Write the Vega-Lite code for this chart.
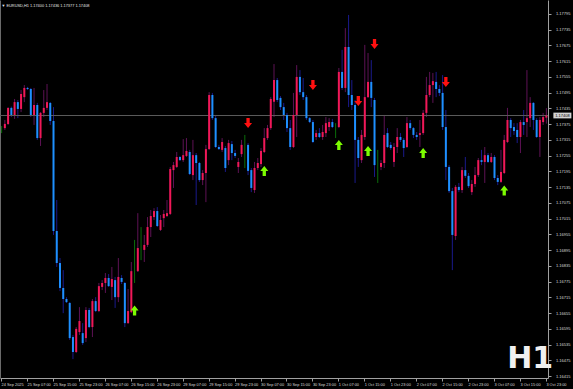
{
"$schema":"https://vega.github.io/schema/vega-lite/v6.json",
"width":548,"height":378,
"autosize":{"type":"none"},
"padding":{"left":0,"top":0,"right":25,"bottom":11},
"background":"#000000",
"config":{"view":{"stroke":null},"font":"Liberation Sans",
 "axisX":{"orient":"bottom","title":null,"grid":false,"labelAngle":0,"labelAlign":"left","labelBaseline":"top","labelFontSize":3.9,"labelColor":"#dcdcdc","labelPadding":1.5,"labelOverlap":false,"labelBound":false,"labelFlush":false,"tickSize":3,"tickColor":"#a0a0a0","domainColor":"#a0a0a0","domainWidth":1}},
"title":{"text":"▼ EURUSD,H1  1.17400 1.17436 1.17377 1.17408","anchor":"start","orient":"top","offset":-8,"dx":2,"fontSize":3.9,"fontWeight":"normal","color":"#e6e6e6","font":"Liberation Sans"},
"datasets":{
"bars":[
{"t":"24 Sep 23:00","o":1.1736,"h":1.17368,"l":1.17341,"c":1.1736},
{"t":"25 Sep 00:00","o":1.1736,"h":1.17391,"l":1.17353,"c":1.17376},
{"t":"25 Sep 01:00","o":1.17376,"h":1.1744,"l":1.17372,"c":1.17437},
{"t":"25 Sep 02:00","o":1.17437,"h":1.17442,"l":1.17402,"c":1.1741},
{"t":"25 Sep 03:00","o":1.1741,"h":1.17471,"l":1.17395,"c":1.17459},
{"t":"25 Sep 04:00","o":1.17459,"h":1.17467,"l":1.17398,"c":1.17433},
{"t":"25 Sep 05:00","o":1.17433,"h":1.17505,"l":1.17421,"c":1.1749},
{"t":"25 Sep 06:00","o":1.17478,"h":1.17524,"l":1.17459,"c":1.17513},
{"t":"25 Sep 07:00","o":1.17513,"h":1.17517,"l":1.17505,"c":1.17509},
{"t":"25 Sep 08:00","o":1.17509,"h":1.17513,"l":1.17402,"c":1.1741},
{"t":"25 Sep 09:00","o":1.1741,"h":1.17513,"l":1.17372,"c":1.17448},
{"t":"25 Sep 10:00","o":1.17448,"h":1.17456,"l":1.17315,"c":1.17322},
{"t":"25 Sep 11:00","o":1.17322,"h":1.17421,"l":1.17292,"c":1.17418},
{"t":"25 Sep 12:00","o":1.17418,"h":1.17505,"l":1.17402,"c":1.17437},
{"t":"25 Sep 13:00","o":1.17437,"h":1.17528,"l":1.17429,"c":1.17459},
{"t":"25 Sep 14:00","o":1.17456,"h":1.17459,"l":1.17372,"c":1.17387},
{"t":"25 Sep 15:00","o":1.17387,"h":1.1744,"l":1.16953,"c":1.16968},
{"t":"25 Sep 16:00","o":1.16968,"h":1.17086,"l":1.16831,"c":1.16846},
{"t":"25 Sep 17:00","o":1.16846,"h":1.16865,"l":1.16739,"c":1.16751},
{"t":"25 Sep 18:00","o":1.16751,"h":1.16819,"l":1.16655,"c":1.16709},
{"t":"25 Sep 19:00","o":1.16709,"h":1.16716,"l":1.16694,"c":1.16697},
{"t":"25 Sep 20:00","o":1.16694,"h":1.16697,"l":1.16553,"c":1.1656},
{"t":"25 Sep 21:00","o":1.16564,"h":1.16572,"l":1.1648,"c":1.16507},
{"t":"25 Sep 22:00","o":1.16507,"h":1.16602,"l":1.16503,"c":1.16595},
{"t":"25 Sep 23:00","o":1.16583,"h":1.16678,"l":1.16572,"c":1.16625},
{"t":"26 Sep 00:00","o":1.16579,"h":1.16617,"l":1.16534,"c":1.16541},
{"t":"26 Sep 01:00","o":1.1656,"h":1.16678,"l":1.16545,"c":1.16667},
{"t":"26 Sep 02:00","o":1.16667,"h":1.16675,"l":1.16598,"c":1.16602},
{"t":"26 Sep 03:00","o":1.16602,"h":1.16709,"l":1.16564,"c":1.16701},
{"t":"26 Sep 04:00","o":1.16701,"h":1.16716,"l":1.16659,"c":1.16663},
{"t":"26 Sep 05:00","o":1.16663,"h":1.1677,"l":1.16659,"c":1.16758},
{"t":"26 Sep 06:00","o":1.16755,"h":1.16781,"l":1.16743,"c":1.1677},
{"t":"26 Sep 07:00","o":1.1677,"h":1.16808,"l":1.16732,"c":1.16789},
{"t":"26 Sep 08:00","o":1.16789,"h":1.16804,"l":1.16755,"c":1.16758},
{"t":"26 Sep 09:00","o":1.16755,"h":1.16831,"l":1.16705,"c":1.16785},
{"t":"26 Sep 10:00","o":1.16781,"h":1.16793,"l":1.16675,"c":1.16716},
{"t":"26 Sep 11:00","o":1.16716,"h":1.16865,"l":1.16697,"c":1.16793},
{"t":"26 Sep 12:00","o":1.16789,"h":1.168,"l":1.16766,"c":1.16774},
{"t":"26 Sep 13:00","o":1.1677,"h":1.16774,"l":1.16602,"c":1.16617},
{"t":"26 Sep 14:00","o":1.16617,"h":1.16747,"l":1.16614,"c":1.16663},
{"t":"26 Sep 15:00","o":1.16659,"h":1.1685,"l":1.16655,"c":1.16815},
{"t":"26 Sep 16:00","o":1.16815,"h":1.16934,"l":1.1677,"c":1.16815},
{"t":"26 Sep 17:00","o":1.16815,"h":1.17036,"l":1.16812,"c":1.16903},
{"t":"26 Sep 18:00","o":1.16899,"h":1.16983,"l":1.16857,"c":1.16899},
{"t":"26 Sep 19:00","o":1.16896,"h":1.16953,"l":1.1685,"c":1.16915},
{"t":"26 Sep 20:00","o":1.16915,"h":1.17021,"l":1.16907,"c":1.16983},
{"t":"26 Sep 21:00","o":1.16983,"h":1.17048,"l":1.16945,"c":1.17025},
{"t":"26 Sep 22:00","o":1.17021,"h":1.17055,"l":1.1701,"c":1.17044},
{"t":"26 Sep 23:00","o":1.17044,"h":1.17059,"l":1.16983,"c":1.16987},
{"t":"29 Sep 00:00","o":1.16972,"h":1.17029,"l":1.16968,"c":1.1701},
{"t":"29 Sep 01:00","o":1.17017,"h":1.17048,"l":1.16983,"c":1.17033},
{"t":"29 Sep 02:00","o":1.17025,"h":1.17086,"l":1.17021,"c":1.17036},
{"t":"29 Sep 03:00","o":1.17033,"h":1.17212,"l":1.17029,"c":1.17204},
{"t":"29 Sep 04:00","o":1.172,"h":1.17231,"l":1.17132,"c":1.17219},
{"t":"29 Sep 05:00","o":1.17212,"h":1.17269,"l":1.17208,"c":1.1725},
{"t":"29 Sep 06:00","o":1.1725,"h":1.17254,"l":1.17235,"c":1.17238},
{"t":"29 Sep 07:00","o":1.17238,"h":1.17318,"l":1.17231,"c":1.17257},
{"t":"29 Sep 08:00","o":1.17254,"h":1.17322,"l":1.1725,"c":1.17273},
{"t":"29 Sep 09:00","o":1.17269,"h":1.17277,"l":1.17181,"c":1.17185},
{"t":"29 Sep 10:00","o":1.17181,"h":1.17315,"l":1.17162,"c":1.17257},
{"t":"29 Sep 11:00","o":1.17257,"h":1.17265,"l":1.17067,"c":1.17227},
{"t":"29 Sep 12:00","o":1.17227,"h":1.17231,"l":1.17155,"c":1.17162},
{"t":"29 Sep 13:00","o":1.17162,"h":1.172,"l":1.17143,"c":1.17189},
{"t":"29 Sep 14:00","o":1.17189,"h":1.17296,"l":1.17078,"c":1.1728},
{"t":"29 Sep 15:00","o":1.1728,"h":1.17497,"l":1.17277,"c":1.17486},
{"t":"29 Sep 16:00","o":1.17486,"h":1.17494,"l":1.17391,"c":1.17398},
{"t":"29 Sep 17:00","o":1.17398,"h":1.1741,"l":1.17284,"c":1.17288},
{"t":"29 Sep 18:00","o":1.17288,"h":1.17296,"l":1.17277,"c":1.1728},
{"t":"29 Sep 19:00","o":1.17277,"h":1.17322,"l":1.17269,"c":1.17307},
{"t":"29 Sep 20:00","o":1.17284,"h":1.17292,"l":1.17193,"c":1.17208},
{"t":"29 Sep 21:00","o":1.17238,"h":1.17315,"l":1.17219,"c":1.17303},
{"t":"29 Sep 22:00","o":1.17299,"h":1.17311,"l":1.17238,"c":1.17265},
{"t":"29 Sep 23:00","o":1.17265,"h":1.17277,"l":1.17246,"c":1.17254},
{"t":"30 Sep 00:00","o":1.17212,"h":1.17246,"l":1.17189,"c":1.17231},
{"t":"30 Sep 01:00","o":1.17261,"h":1.17315,"l":1.1725,"c":1.17296},
{"t":"30 Sep 02:00","o":1.17296,"h":1.17334,"l":1.17208,"c":1.17296},
{"t":"30 Sep 03:00","o":1.17296,"h":1.17303,"l":1.17181,"c":1.17197},
{"t":"30 Sep 04:00","o":1.172,"h":1.17208,"l":1.17116,"c":1.17132},
{"t":"30 Sep 05:00","o":1.17124,"h":1.17231,"l":1.17113,"c":1.17208},
{"t":"30 Sep 06:00","o":1.17208,"h":1.17246,"l":1.172,"c":1.17227},
{"t":"30 Sep 07:00","o":1.17223,"h":1.17284,"l":1.17212,"c":1.17273},
{"t":"30 Sep 08:00","o":1.17269,"h":1.1736,"l":1.17265,"c":1.17322},
{"t":"30 Sep 09:00","o":1.17322,"h":1.17372,"l":1.17315,"c":1.1736},
{"t":"30 Sep 10:00","o":1.1736,"h":1.17478,"l":1.17353,"c":1.17471},
{"t":"30 Sep 11:00","o":1.1746,"h":1.17604,"l":1.17402,"c":1.17543},
{"t":"30 Sep 12:00","o":1.17543,"h":1.17551,"l":1.17459,"c":1.17467},
{"t":"30 Sep 13:00","o":1.17475,"h":1.17482,"l":1.17429,"c":1.1744},
{"t":"30 Sep 14:00","o":1.1744,"h":1.17456,"l":1.17391,"c":1.1741},
{"t":"30 Sep 15:00","o":1.1741,"h":1.17418,"l":1.17345,"c":1.1736},
{"t":"30 Sep 16:00","o":1.1736,"h":1.17391,"l":1.17277,"c":1.17288},
{"t":"30 Sep 17:00","o":1.17288,"h":1.17494,"l":1.17284,"c":1.1741},
{"t":"30 Sep 18:00","o":1.1741,"h":1.176,"l":1.17326,"c":1.17555},
{"t":"30 Sep 19:00","o":1.17555,"h":1.17581,"l":1.17486,"c":1.17497},
{"t":"30 Sep 20:00","o":1.17497,"h":1.17551,"l":1.17467,"c":1.17478},
{"t":"30 Sep 21:00","o":1.17478,"h":1.17486,"l":1.17391,"c":1.17398},
{"t":"30 Sep 22:00","o":1.17398,"h":1.17402,"l":1.17379,"c":1.17383},
{"t":"30 Sep 23:00","o":1.17383,"h":1.17391,"l":1.17303,"c":1.17307},
{"t":"1 Oct 00:00","o":1.17326,"h":1.17353,"l":1.17315,"c":1.17341},
{"t":"1 Oct 01:00","o":1.17341,"h":1.1736,"l":1.17322,"c":1.17326},
{"t":"1 Oct 02:00","o":1.17326,"h":1.17372,"l":1.17315,"c":1.17345},
{"t":"1 Oct 03:00","o":1.17341,"h":1.17402,"l":1.17326,"c":1.17379},
{"t":"1 Oct 04:00","o":1.17364,"h":1.17398,"l":1.17349,"c":1.17383},
{"t":"1 Oct 05:00","o":1.17383,"h":1.17395,"l":1.1736,"c":1.17364},
{"t":"1 Oct 06:00","o":1.17364,"h":1.17379,"l":1.17322,"c":1.17364},
{"t":"1 Oct 07:00","o":1.17364,"h":1.17589,"l":1.1736,"c":1.17574},
{"t":"1 Oct 08:00","o":1.17574,"h":1.17658,"l":1.17505,"c":1.17513},
{"t":"1 Oct 09:00","o":1.17513,"h":1.17741,"l":1.17497,"c":1.17669},
{"t":"1 Oct 10:00","o":1.17669,"h":1.17791,"l":1.1744,"c":1.17486},
{"t":"1 Oct 11:00","o":1.17486,"h":1.17543,"l":1.17429,"c":1.17448},
{"t":"1 Oct 12:00","o":1.17448,"h":1.17467,"l":1.17151,"c":1.17315},
{"t":"1 Oct 13:00","o":1.17315,"h":1.17326,"l":1.17212,"c":1.17246},
{"t":"1 Oct 14:00","o":1.17238,"h":1.17353,"l":1.17227,"c":1.17334},
{"t":"1 Oct 15:00","o":1.17326,"h":1.17677,"l":1.17315,"c":1.17478},
{"t":"1 Oct 16:00","o":1.17478,"h":1.17646,"l":1.17475,"c":1.17536},
{"t":"1 Oct 17:00","o":1.17536,"h":1.17619,"l":1.1744,"c":1.17475},
{"t":"1 Oct 18:00","o":1.17467,"h":1.17475,"l":1.17174,"c":1.17219},
{"t":"1 Oct 19:00","o":1.17219,"h":1.17277,"l":1.17151,"c":1.17219},
{"t":"1 Oct 20:00","o":1.17212,"h":1.17238,"l":1.172,"c":1.17227},
{"t":"1 Oct 21:00","o":1.17227,"h":1.1741,"l":1.17208,"c":1.17334},
{"t":"1 Oct 22:00","o":1.17341,"h":1.1736,"l":1.17284,"c":1.17288},
{"t":"1 Oct 23:00","o":1.17296,"h":1.17307,"l":1.17277,"c":1.17284},
{"t":"2 Oct 00:00","o":1.17231,"h":1.17303,"l":1.17212,"c":1.17288},
{"t":"2 Oct 01:00","o":1.17288,"h":1.1736,"l":1.17265,"c":1.17326},
{"t":"2 Oct 02:00","o":1.17326,"h":1.17341,"l":1.17307,"c":1.17315},
{"t":"2 Oct 03:00","o":1.17315,"h":1.17322,"l":1.1725,"c":1.17284},
{"t":"2 Oct 04:00","o":1.17288,"h":1.17402,"l":1.17284,"c":1.17379},
{"t":"2 Oct 05:00","o":1.17379,"h":1.17391,"l":1.17353,"c":1.1736},
{"t":"2 Oct 06:00","o":1.1736,"h":1.17364,"l":1.17322,"c":1.17334},
{"t":"2 Oct 07:00","o":1.17334,"h":1.17345,"l":1.17315,"c":1.17326},
{"t":"2 Oct 08:00","o":1.17334,"h":1.17391,"l":1.17288,"c":1.17341},
{"t":"2 Oct 09:00","o":1.17341,"h":1.17429,"l":1.17334,"c":1.17418},
{"t":"2 Oct 10:00","o":1.17418,"h":1.17555,"l":1.17402,"c":1.17486},
{"t":"2 Oct 11:00","o":1.17486,"h":1.17574,"l":1.17478,"c":1.17524},
{"t":"2 Oct 12:00","o":1.17524,"h":1.1757,"l":1.17456,"c":1.17539},
{"t":"2 Oct 13:00","o":1.17536,"h":1.17574,"l":1.17478,"c":1.17509},
{"t":"2 Oct 14:00","o":1.17509,"h":1.17524,"l":1.17482,"c":1.17494},
{"t":"2 Oct 15:00","o":1.17494,"h":1.17562,"l":1.17353,"c":1.17364},
{"t":"2 Oct 16:00","o":1.17364,"h":1.17429,"l":1.17162,"c":1.17212},
{"t":"2 Oct 17:00","o":1.17212,"h":1.17219,"l":1.17113,"c":1.1712},
{"t":"2 Oct 18:00","o":1.1712,"h":1.17132,"l":1.16819,"c":1.16953},
{"t":"2 Oct 19:00","o":1.16949,"h":1.17143,"l":1.16934,"c":1.17136},
{"t":"2 Oct 20:00","o":1.17136,"h":1.17151,"l":1.17116,"c":1.17124},
{"t":"2 Oct 21:00","o":1.17124,"h":1.17212,"l":1.17113,"c":1.172},
{"t":"2 Oct 22:00","o":1.172,"h":1.1725,"l":1.1717,"c":1.17178},
{"t":"2 Oct 23:00","o":1.17178,"h":1.17189,"l":1.17132,"c":1.17139},
{"t":"3 Oct 00:00","o":1.17116,"h":1.17162,"l":1.17105,"c":1.17147},
{"t":"3 Oct 01:00","o":1.17147,"h":1.17212,"l":1.17136,"c":1.17181},
{"t":"3 Oct 02:00","o":1.17181,"h":1.17246,"l":1.17174,"c":1.17238},
{"t":"3 Oct 03:00","o":1.17238,"h":1.17277,"l":1.17219,"c":1.17231},
{"t":"3 Oct 04:00","o":1.17231,"h":1.17288,"l":1.17151,"c":1.17257},
{"t":"3 Oct 05:00","o":1.17257,"h":1.17265,"l":1.17227,"c":1.17231},
{"t":"3 Oct 06:00","o":1.17231,"h":1.17265,"l":1.17227,"c":1.1725},
{"t":"3 Oct 07:00","o":1.1725,"h":1.17257,"l":1.17162,"c":1.1717},
{"t":"3 Oct 08:00","o":1.1717,"h":1.17181,"l":1.17143,"c":1.17155},
{"t":"3 Oct 09:00","o":1.17155,"h":1.17277,"l":1.17151,"c":1.17193},
{"t":"3 Oct 10:00","o":1.17189,"h":1.17334,"l":1.17185,"c":1.17315},
{"t":"3 Oct 11:00","o":1.17307,"h":1.17437,"l":1.17303,"c":1.17391},
{"t":"3 Oct 12:00","o":1.17391,"h":1.17398,"l":1.17326,"c":1.1736},
{"t":"3 Oct 13:00","o":1.17364,"h":1.17379,"l":1.17334,"c":1.17349},
{"t":"3 Oct 14:00","o":1.17353,"h":1.17379,"l":1.17303,"c":1.17326},
{"t":"3 Oct 15:00","o":1.17326,"h":1.17391,"l":1.17265,"c":1.17383},
{"t":"3 Oct 16:00","o":1.17383,"h":1.17429,"l":1.17334,"c":1.17372},
{"t":"3 Oct 17:00","o":1.17383,"h":1.17581,"l":1.17326,"c":1.17398},
{"t":"3 Oct 18:00","o":1.17398,"h":1.17478,"l":1.17364,"c":1.17456},
{"t":"3 Oct 19:00","o":1.17456,"h":1.17459,"l":1.17353,"c":1.17391},
{"t":"3 Oct 20:00","o":1.17391,"h":1.17398,"l":1.17322,"c":1.17326},
{"t":"3 Oct 21:00","o":1.17326,"h":1.17402,"l":1.1725,"c":1.17391},
{"t":"3 Oct 22:00","o":1.17383,"h":1.17418,"l":1.17372,"c":1.17402},
{"t":"3 Oct 23:00","o":1.174,"h":1.17436,"l":1.17377,"c":1.17408}
],
"dn":[
{"t":"30 Sep 03:00","p":1.17379},
{"t":"30 Sep 23:00","p":1.17524},
{"t":"1 Oct 13:00","p":1.17463},
{"t":"1 Oct 18:00","p":1.1768},
{"t":"2 Oct 16:00","p":1.17536}
],
"up":[
{"t":"26 Sep 16:00","p":1.16665},
{"t":"30 Sep 08:00","p":1.17197},
{"t":"1 Oct 07:00","p":1.17296},
{"t":"1 Oct 16:00","p":1.17273},
{"t":"2 Oct 09:00","p":1.17265},
{"t":"3 Oct 10:00","p":1.17122}
],
"last":[{"t":"3 Oct 23:00","p":1.17408,"label":"1.17408"}],
"mark":[{"t":"3 Oct 18:00","p":1.16446,"label":"H1"}]
},
"resolve":{"axis":{"y":"independent"}},
"layer":[
{"data":{"name":"bars"},"mark":{"type":"rule","strokeWidth":1},
 "encoding":{
  "x":{"field":"t","type":"ordinal","scale":{"paddingInner":0,"paddingOuter":0,"domain":["24 Sep 23:00","25 Sep 00:00","25 Sep 01:00","25 Sep 02:00","25 Sep 03:00","25 Sep 04:00","25 Sep 05:00","25 Sep 06:00","25 Sep 07:00","25 Sep 08:00","25 Sep 09:00","25 Sep 10:00","25 Sep 11:00","25 Sep 12:00","25 Sep 13:00","25 Sep 14:00","25 Sep 15:00","25 Sep 16:00","25 Sep 17:00","25 Sep 18:00","25 Sep 19:00","25 Sep 20:00","25 Sep 21:00","25 Sep 22:00","25 Sep 23:00","26 Sep 00:00","26 Sep 01:00","26 Sep 02:00","26 Sep 03:00","26 Sep 04:00","26 Sep 05:00","26 Sep 06:00","26 Sep 07:00","26 Sep 08:00","26 Sep 09:00","26 Sep 10:00","26 Sep 11:00","26 Sep 12:00","26 Sep 13:00","26 Sep 14:00","26 Sep 15:00","26 Sep 16:00","26 Sep 17:00","26 Sep 18:00","26 Sep 19:00","26 Sep 20:00","26 Sep 21:00","26 Sep 22:00","26 Sep 23:00","29 Sep 00:00","29 Sep 01:00","29 Sep 02:00","29 Sep 03:00","29 Sep 04:00","29 Sep 05:00","29 Sep 06:00","29 Sep 07:00","29 Sep 08:00","29 Sep 09:00","29 Sep 10:00","29 Sep 11:00","29 Sep 12:00","29 Sep 13:00","29 Sep 14:00","29 Sep 15:00","29 Sep 16:00","29 Sep 17:00","29 Sep 18:00","29 Sep 19:00","29 Sep 20:00","29 Sep 21:00","29 Sep 22:00","29 Sep 23:00","30 Sep 00:00","30 Sep 01:00","30 Sep 02:00","30 Sep 03:00","30 Sep 04:00","30 Sep 05:00","30 Sep 06:00","30 Sep 07:00","30 Sep 08:00","30 Sep 09:00","30 Sep 10:00","30 Sep 11:00","30 Sep 12:00","30 Sep 13:00","30 Sep 14:00","30 Sep 15:00","30 Sep 16:00","30 Sep 17:00","30 Sep 18:00","30 Sep 19:00","30 Sep 20:00","30 Sep 21:00","30 Sep 22:00","30 Sep 23:00","1 Oct 00:00","1 Oct 01:00","1 Oct 02:00","1 Oct 03:00","1 Oct 04:00","1 Oct 05:00","1 Oct 06:00","1 Oct 07:00","1 Oct 08:00","1 Oct 09:00","1 Oct 10:00","1 Oct 11:00","1 Oct 12:00","1 Oct 13:00","1 Oct 14:00","1 Oct 15:00","1 Oct 16:00","1 Oct 17:00","1 Oct 18:00","1 Oct 19:00","1 Oct 20:00","1 Oct 21:00","1 Oct 22:00","1 Oct 23:00","2 Oct 00:00","2 Oct 01:00","2 Oct 02:00","2 Oct 03:00","2 Oct 04:00","2 Oct 05:00","2 Oct 06:00","2 Oct 07:00","2 Oct 08:00","2 Oct 09:00","2 Oct 10:00","2 Oct 11:00","2 Oct 12:00","2 Oct 13:00","2 Oct 14:00","2 Oct 15:00","2 Oct 16:00","2 Oct 17:00","2 Oct 18:00","2 Oct 19:00","2 Oct 20:00","2 Oct 21:00","2 Oct 22:00","2 Oct 23:00","3 Oct 00:00","3 Oct 01:00","3 Oct 02:00","3 Oct 03:00","3 Oct 04:00","3 Oct 05:00","3 Oct 06:00","3 Oct 07:00","3 Oct 08:00","3 Oct 09:00","3 Oct 10:00","3 Oct 11:00","3 Oct 12:00","3 Oct 13:00","3 Oct 14:00","3 Oct 15:00","3 Oct 16:00","3 Oct 17:00","3 Oct 18:00","3 Oct 19:00","3 Oct 20:00","3 Oct 21:00","3 Oct 22:00","3 Oct 23:00"]},
   "axis":{"values":["24 Sep 23:00","25 Sep 07:00","25 Sep 15:00","25 Sep 23:00","26 Sep 07:00","26 Sep 15:00","26 Sep 23:00","29 Sep 07:00","29 Sep 15:00","29 Sep 23:00","30 Sep 07:00","30 Sep 15:00","30 Sep 23:00","1 Oct 07:00","1 Oct 15:00","1 Oct 23:00","2 Oct 07:00","2 Oct 15:00","2 Oct 23:00","3 Oct 07:00","3 Oct 15:00","3 Oct 23:00"],
    "labelExpr":"datum.value == '24 Sep 23:00' ? '24 Sep 2025' : datum.value"}},
  "y":{"field":"h","type":"quantitative","scale":{"domain":[1.16408,1.17848],"nice":false,"zero":false},
   "axis":{"orient":"right","title":null,"grid":false,"values":[1.16415,1.16475,1.16535,1.16595,1.16655,1.16715,1.16775,1.16835,1.16895,1.16955,1.17015,1.17075,1.17135,1.17195,1.17255,1.17315,1.17375,1.17435,1.17495,1.17555,1.17615,1.17675,1.17735,1.17795],"format":".5f","labelFontSize":4,"labelColor":"#dcdcdc","labelPadding":4.5,"labelOverlap":false,"labelBound":false,"labelFlush":false,"tickSize":3,"tickColor":"#a0a0a0","domainColor":"#a0a0a0"}},
  "y2":{"field":"l"},
  "color":{"condition":[{"test":"datum.c > datum.o","value":"#5e1255"},{"test":"datum.c < datum.o","value":"#1a1a8c"}],"value":"#0a6e0a"}
 }},
{"data":{"values":[{"p":1.17408}]},"mark":{"type":"rule","color":"#5a5a5a","strokeWidth":1},
 "encoding":{"y":{"field":"p","type":"quantitative","axis":null}}},
{"data":{"name":"bars"},"mark":{"type":"bar","width":2},
 "encoding":{
  "x":{"field":"t","type":"ordinal"},
  "y":{"field":"o","type":"quantitative","axis":{"orient":"left","title":null,"grid":false,"labels":false,"ticks":false,"domainColor":"#6a6a6a"}},
  "y2":{"field":"c"},
  "color":{"condition":[{"test":"datum.c > datum.o","value":"#f01858"},{"test":"datum.c < datum.o","value":"#1e90ff"}],"value":"#0a6e0a"}
 }},
{"data":{"name":"dn"},"mark":{"type":"point","filled":true,"opacity":1,"size":100,"color":"#ff1010","shape":"M-0.33,-1L0.33,-1L0.33,0L0.8,0L0,1L-0.8,0L-0.33,0Z"},
 "encoding":{"x":{"field":"t","type":"ordinal"},"y":{"field":"p","type":"quantitative","axis":null}}},
{"data":{"name":"up"},"mark":{"type":"point","filled":true,"opacity":1,"size":100,"color":"#7cfc00","shape":"M-0.33,1L0.33,1L0.33,0L0.8,0L0,-1L-0.8,0L-0.33,0Z"},
 "encoding":{"x":{"field":"t","type":"ordinal"},"y":{"field":"p","type":"quantitative","axis":null}}},
{"data":{"name":"last"},"mark":{"type":"point","filled":true,"opacity":1,"size":324,"color":"#d2d2d2","xOffset":16,"shape":"M-1,-0.32L1,-0.32L1,0.32L-1,0.32Z"},
 "encoding":{"x":{"field":"t","type":"ordinal"},"y":{"field":"p","type":"quantitative","axis":null}}},
{"data":{"name":"last"},"mark":{"type":"text","dx":16,"align":"center","baseline":"middle","fontSize":4,"color":"#000000","font":"Liberation Sans"},
 "encoding":{"x":{"field":"t","type":"ordinal"},"y":{"field":"p","type":"quantitative","axis":null},"text":{"field":"label"}}},
{"data":{"name":"mark"},"mark":{"type":"text","align":"center","baseline":"alphabetic","fontSize":30,"fontWeight":"bold","color":"#f0f0f0","font":"DejaVu Sans"},
 "encoding":{"x":{"field":"t","type":"ordinal"},"y":{"field":"p","type":"quantitative","axis":null},"text":{"field":"label"}}}
]
}
